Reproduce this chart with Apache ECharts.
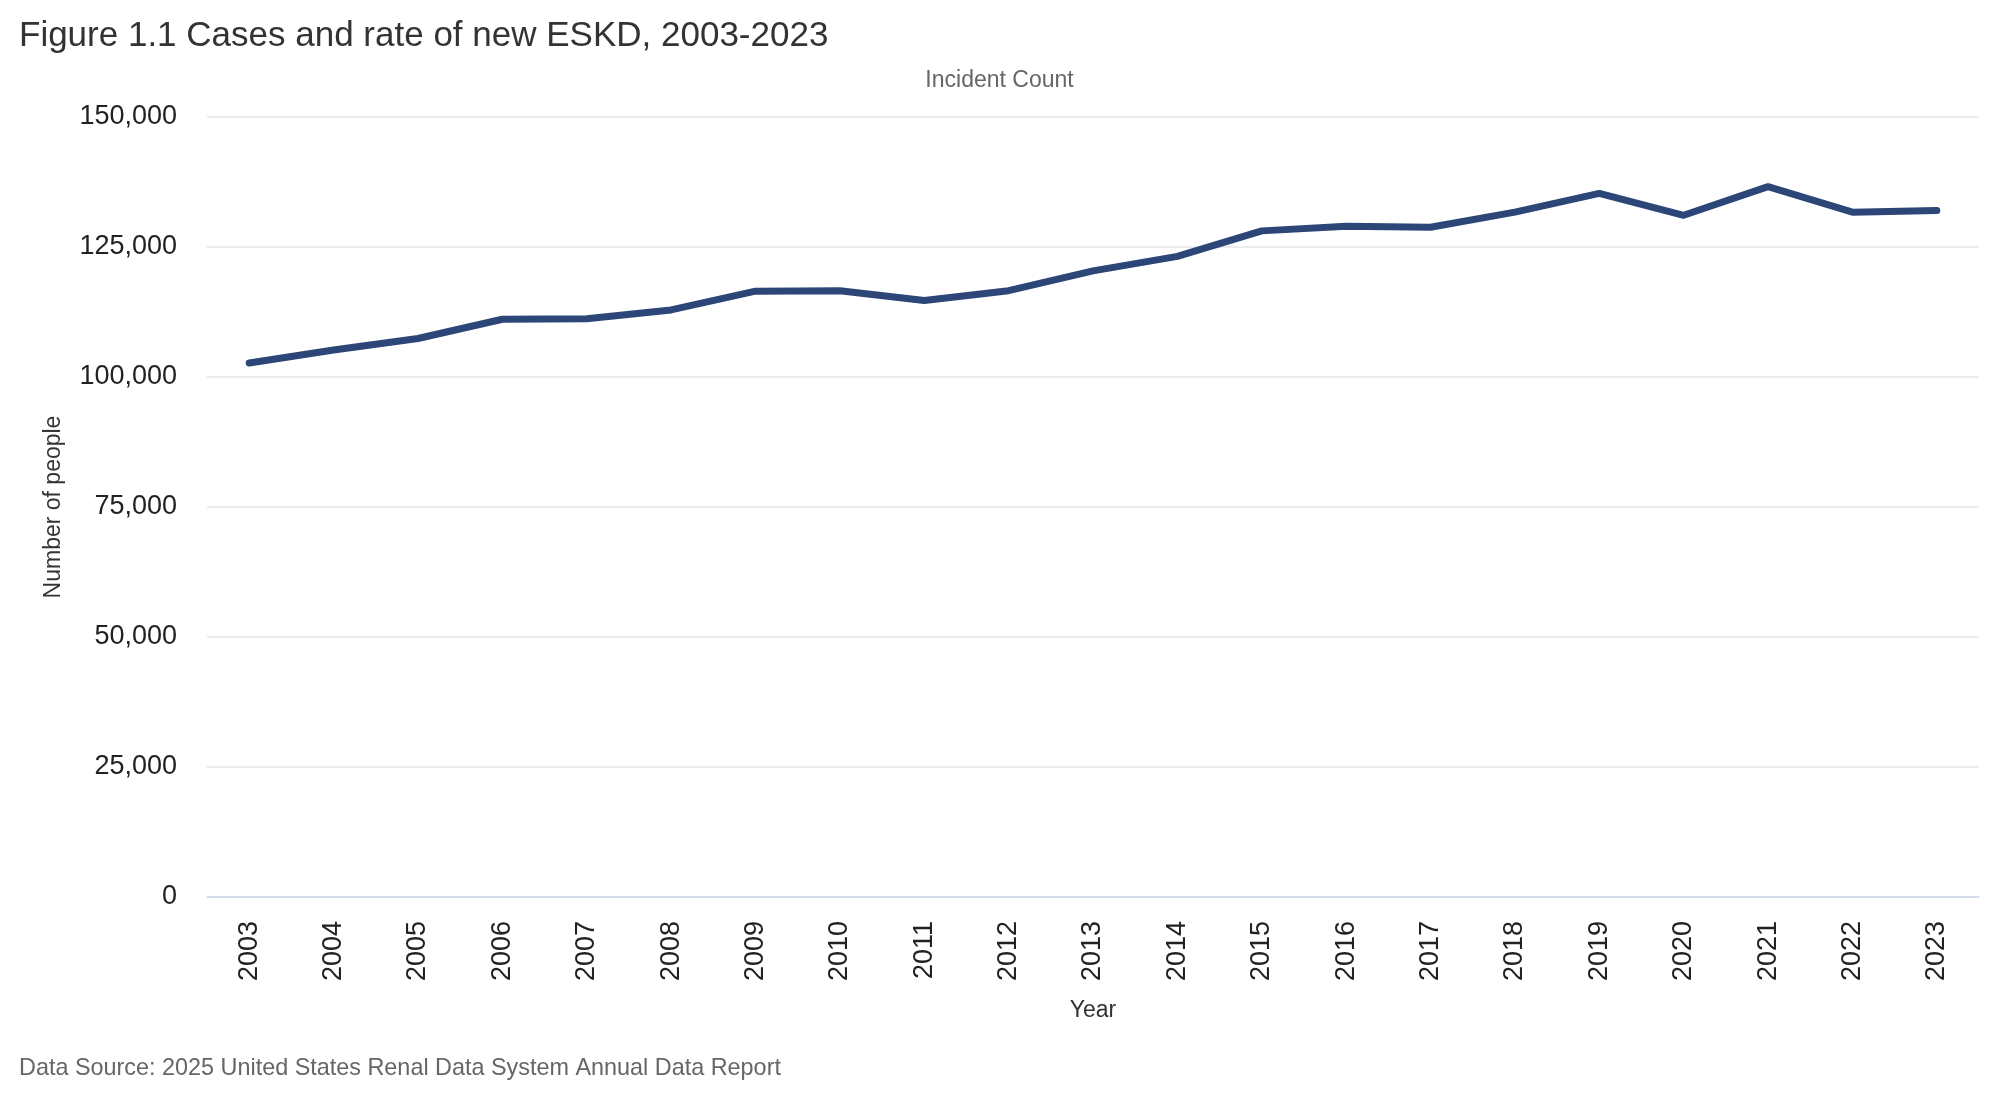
<!DOCTYPE html>
<html>
<head>
<meta charset="utf-8">
<script src="https://cdn.jsdelivr.net/npm/echarts@6/dist/echarts.min.js"></script>
<style>
html,body{margin:0;padding:0;background:#fff;}
#chart{width:1999px;height:1107px;}
</style>
</head>
<body>
<div id="chart"></div>
<script>
const years = ['2003','2004','2005','2006','2007','2008','2009','2010','2011','2012','2013','2014','2015','2016','2017','2018','2019','2020','2021','2022','2023'];
const incidentCount = [102700,105200,107400,111100,111200,112900,116500,116600,114700,116600,120400,123200,128100,129000,128800,131700,135300,131100,136600,131700,132000];
const yTicks = {min:0, max:150000, interval:25000};

const FONT = '"Liberation Sans", Arial, sans-serif';
const chart = echarts.init(document.getElementById('chart'), null, {renderer:'canvas'});
chart.setOption({
  backgroundColor:'#ffffff',
  animation:false,
  title:[
    {text:'Figure 1.1 Cases and rate of new ESKD, 2003-2023', left:14, top:14,
     textStyle:{fontFamily:FONT, fontSize:35, fontWeight:'normal', color:'#333333'}},
    {text:'Incident Count', left:'center', top:64,
     textStyle:{fontFamily:FONT, fontSize:23, fontWeight:'normal', color:'#666666'}},
    {text:'Data Source: 2025 United States Renal Data System Annual Data Report', left:14, top:1052,
     textStyle:{fontFamily:FONT, fontSize:23.4, fontWeight:'normal', color:'#666666'}}
  ],
  grid:{left:207, right:20, top:117, bottom:210, containLabel:false},
  xAxis:{
    type:'category', data:years, boundaryGap:true,
    name:'Year', nameLocation:'middle', nameGap:102,
    nameTextStyle:{fontFamily:FONT, fontSize:23, color:'#333333'},
    axisLine:{show:true, lineStyle:{color:'#ccd6eb', width:1.5}},
    axisTick:{show:false},
    axisLabel:{rotate:90, margin:24, fontFamily:FONT, fontSize:27, color:'#222222', interval:0},
    splitLine:{show:false}
  },
  yAxis:{
    type:'value', min:yTicks.min, max:yTicks.max, interval:yTicks.interval,
    name:'Number of people', nameLocation:'middle', nameGap:142,
    nameTextStyle:{fontFamily:FONT, fontSize:23, color:'#333333'},
    axisLine:{show:false}, axisTick:{show:false},
    axisLabel:{margin:30, fontFamily:FONT, fontSize:27, color:'#222222',
      formatter:v=>v.toLocaleString('en-US')},
    splitLine:{lineStyle:{color:'#e6e6e6', width:1.5}}
  },
  series:[{
    type:'line', data:incidentCount, symbol:'none',
    lineStyle:{color:'#2b4677', width:7, cap:'round', join:'round'},
    itemStyle:{color:'#2b4677'}
  }]
});
</script>
</body>
</html>
